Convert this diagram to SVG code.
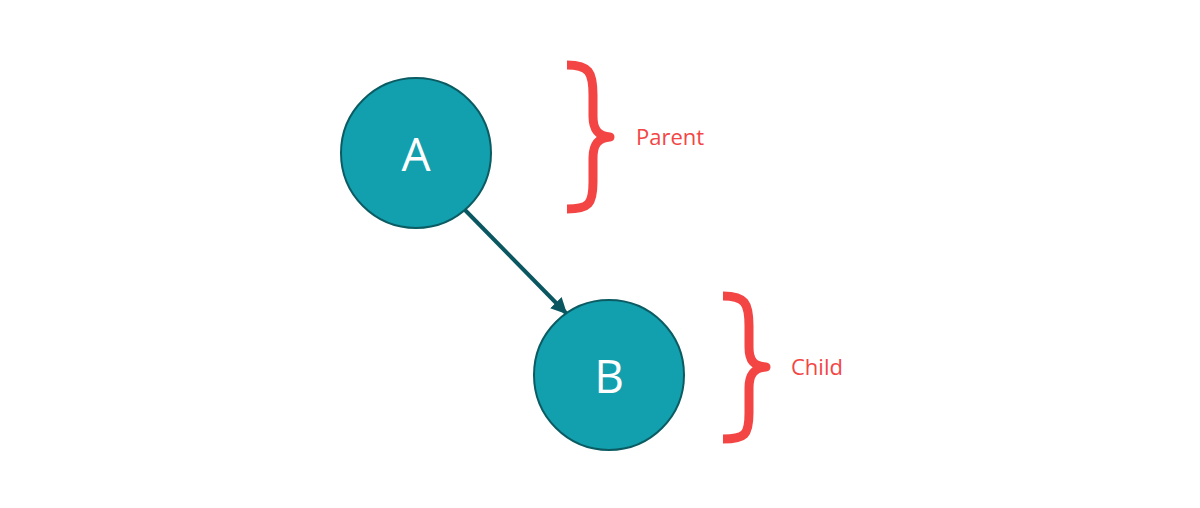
<svg xmlns="http://www.w3.org/2000/svg" width="1200" height="508" viewBox="0 0 1200 508">
<style>
.node{fill:#129fae;stroke:#0b5b63;stroke-width:2}
.lbl{font-family:"Open Sans","DejaVu Sans",sans-serif;font-size:46px;fill:#ffffff;text-anchor:middle}
.brace{fill:none;stroke:#f44545;stroke-width:9;stroke-linecap:butt;stroke-linejoin:round}
.note{font-family:"Open Sans","DejaVu Sans",sans-serif;font-size:22px;fill:#f44545}
</style>
<defs>
<marker id="arr" viewBox="0 0 10 10" refX="9" refY="5" markerWidth="4" markerHeight="4" orient="auto" markerUnits="strokeWidth">
<path d="M0,0 L10,5 L0,10 z" fill="#0a5761"/>
</marker>
</defs>
<rect width="1200" height="508" fill="#ffffff"/>
<g id="connectors">
<line x1="465" y1="210" x2="566" y2="313" stroke="#0a5761" stroke-width="4" marker-end="url(#arr)"/>
</g>
<g id="nodeA">
<circle class="node" cx="416" cy="153" r="75"/>
<text class="lbl" x="416" y="171">A</text>
</g>
<g id="nodeB">
<circle class="node" cx="609" cy="375" r="75"/>
<text class="lbl" x="609" y="393">B</text>
</g>
<g id="parentBrace">
<path class="brace" d="M567,65 C589,65 593,72 593,95 L593,116 C593,130 598,136 610,137 C598,138 593,144 593,158 L593,182 C593,204 589,209 567,209"/>
<text class="note" x="636" y="145">Parent</text>
</g>
<g id="childBrace">
<path class="brace" d="M723,296 C745,296 749,303 749,326 L749,347 C749,361 754,366 766,367 C754,368 749,374 749,388 L749,413 C749,435 745,439 723,439"/>
<text class="note" x="791" y="375">Child</text>
</g>
</svg>
